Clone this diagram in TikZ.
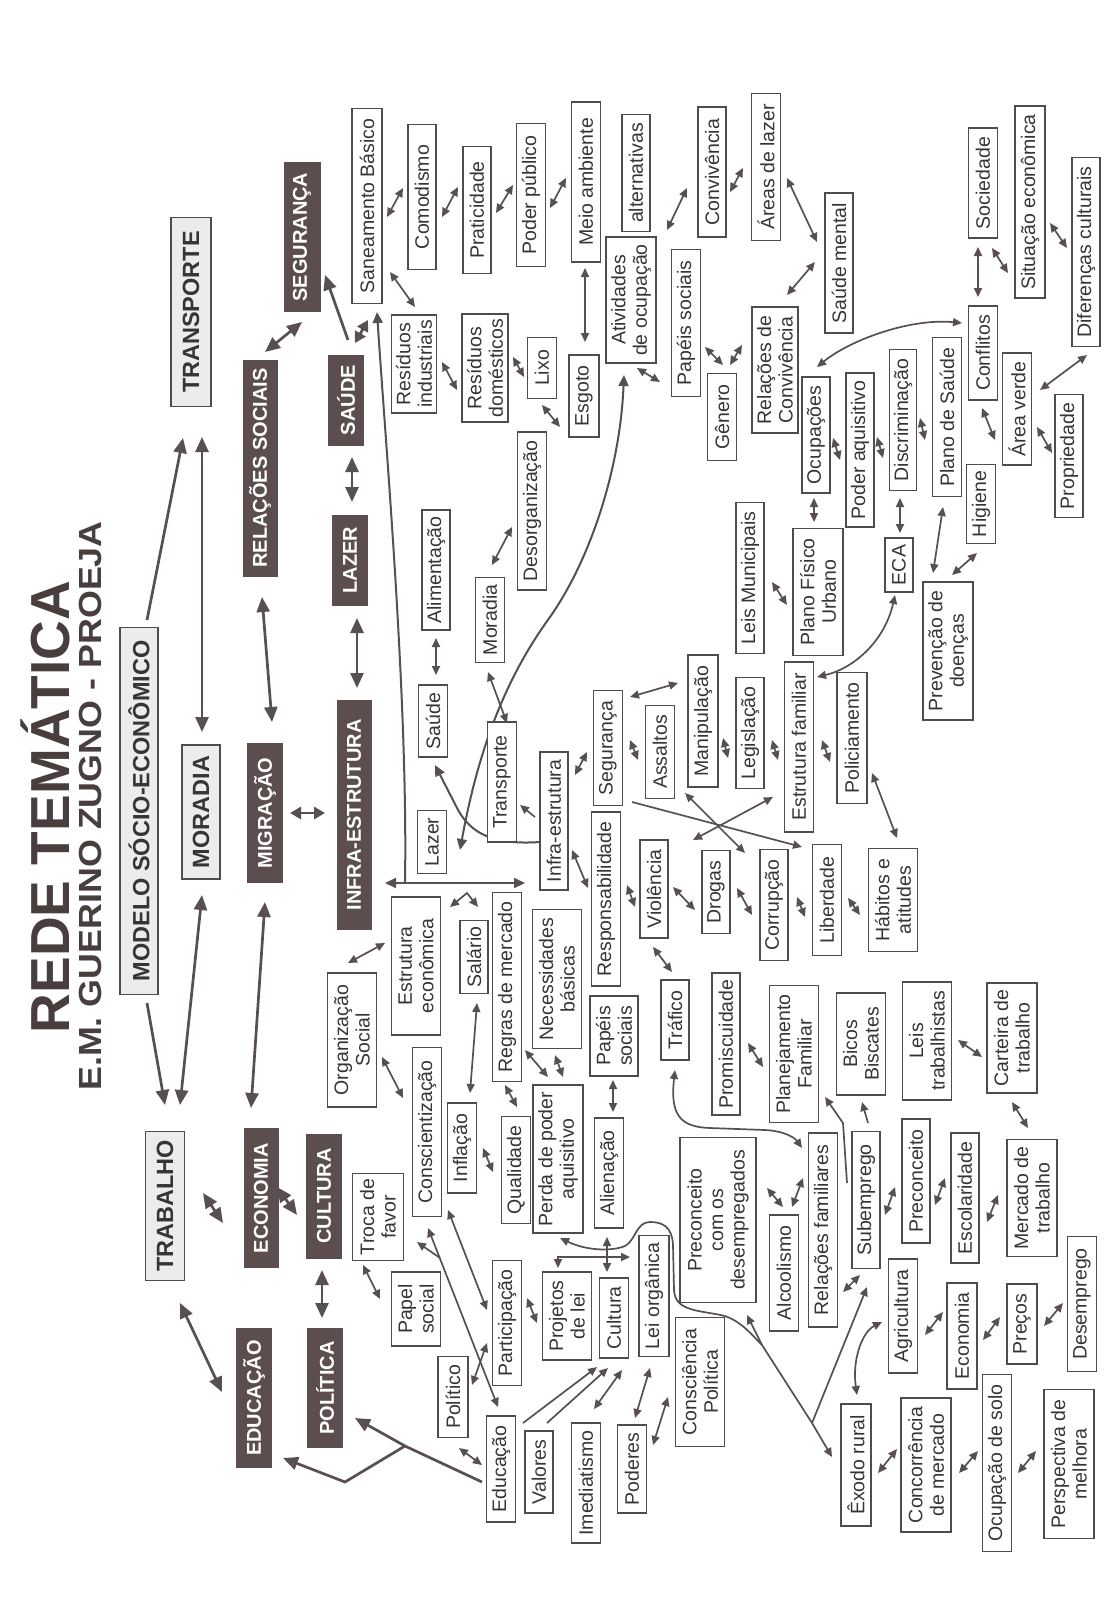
\documentclass[tikz,border=0pt]{standalone}
\usepackage{fontspec}
\setmainfont{Liberation Sans}
\usetikzlibrary{arrows.meta,calc,backgrounds}
\definecolor{txtc}{RGB}{55,52,52}
\definecolor{titc}{RGB}{72,62,62}
\definecolor{arrc}{RGB}{88,80,80}
\definecolor{darkc}{RGB}{92,78,78}
\definecolor{lightc}{RGB}{236,236,236}
\definecolor{linec}{RGB}{80,76,76}
\tikzset{
 bx/.style={rotate=90,draw=linec,line width=1.3,fill=white,text=txtc,inner sep=1,align=center,font=\fontsize{19.5}{21.5}\selectfont},
 dk/.style={rotate=90,fill=darkc,text=white,inner sep=1,align=center,font=\fontsize{20}{22}\selectfont\bfseries},
 lt/.style={rotate=90,draw=linec,line width=1.3,fill=lightc,text=txtc,inner sep=1,align=center,font=\fontsize{23.5}{26}\selectfont\bfseries},
 sm/.style={draw=arrc,line width=1.7,{Triangle[length=9,width=8]}-{Triangle[length=9,width=8]}},
 smo/.style={draw=arrc,line width=1.7,-{Triangle[length=9,width=8]}},
 smn/.style={draw=arrc,line width=1.7},
 md/.style={draw=arrc,line width=2,{Triangle[length=11,width=10]}-{Triangle[length=11,width=10]}},
 mdo/.style={draw=arrc,line width=2,-{Triangle[length=11,width=10]}},
 mdn/.style={draw=arrc,line width=2},
 bg/.style={draw=arrc,line width=2.7,{Triangle[length=15,width=13]}-{Triangle[length=15,width=13]}},
 bgs/.style={draw=arrc,line width=2.7,{Triangle[length=11,width=12]}-{Triangle[length=11,width=12]}},
 bgo/.style={draw=arrc,line width=2.7,-{Triangle[length=15,width=13]}},
 bgn/.style={draw=arrc,line width=2.7},
}
\newcommand\mkn[7]{\node[#1,minimum width=#5,minimum height=#6] (#2) at (#3,#4) {#7};}
\begin{document}
\begin{tikzpicture}[x=1pt,y=-1pt]
\useasboundingbox (0,0) rectangle (1112,1614);
% titles
\node[rotate=90,anchor=base,font=\fontsize{55}{62}\selectfont\bfseries,text=titc] (title) at (69,807) {REDE TEMÁTICA};
\node[rotate=90,anchor=base,font=\fontsize{32}{36}\selectfont\bfseries\addfontfeature{FakeStretch=1.12},text=titc] (subt) at (101,806) {E.M. GUERINO ZUGNO - PROEJA};
% main concepts
\mkn{lt}{trans}{191}{312}{189}{40}{TRANSPORTE}
\mkn{dk}{seg}{302}{237}{150}{37}{SEGURANÇA}
\mkn{dk}{saude}{346}{400}{91}{36}{SAÚDE}
\mkn{dk}{rel}{260}{468}{217}{35}{RELAÇÕES SOCIAIS}
\mkn{lt}{modelo}{139}{811}{367}{38}{MODELO SÓCIO-ECONÔMICO}
\mkn{lt}{mor}{201}{812}{134}{38}{MORADIA}
\mkn{dk}{mig}{265}{813}{140}{36}{MIGRAÇÃO}
\mkn{dk}{infra}{354}{815}{230}{35}{INFRA-ESTRUTURA}
\mkn{dk}{lazer}{350}{560}{91}{36}{LAZER}
\mkn{lt}{trab}{165}{1206}{149}{39}{TRABALHO}
\mkn{dk}{eco}{261}{1198}{140}{35}{ECONOMIA}
\mkn{dk}{cul}{324}{1196}{125}{36}{CULTURA}
\mkn{dk}{edu}{254}{1398}{140}{36}{EDUCAÇÃO}
\mkn{dk}{pol}{325}{1388}{120}{36}{POLÍTICA}
% sub concepts
\mkn{bx}{san}{367}{206}{195}{30}{Saneamento Básico}
\mkn{bx}{com}{422}{197}{145}{28}{Comodismo}
\mkn{bx}{prat}{477}{210}{127}{28}{Praticidade}
\mkn{bx}{podp}{531}{195}{143}{29}{Poder público}
\mkn{bx}{meio}{586}{182}{160}{29}{Meio ambiente}
\mkn{bx}{alt}{636}{173}{117}{28}{alternativas}
\mkn{bx}{conv}{712}{172}{130}{28}{Convivência}
\mkn{bx}{resi}{414}{364}{98}{45}{Resíduos\\industriais}
\mkn{bx}{resd}{485}{368}{108}{46}{Resíduos\\domésticos}
\mkn{bx}{lixo}{542}{368}{61}{29}{Lixo}
\mkn{bx}{esg}{584}{396}{82}{30}{Esgoto}
\mkn{bx}{ativ}{631}{300}{126}{50}{Atividades\\de ocupação}
\mkn{bx}{paps}{686}{323}{147}{29}{Papéis sociais}
\mkn{bx}{gen}{722}{417}{87}{29}{Gênero}
\mkn{bx}{relc}{775}{370}{126}{46}{Relações de\\Convivência}
\mkn{bx}{areas}{766}{167}{147}{29}{Áreas de lazer}
\mkn{bx}{saum}{839}{263}{140}{28}{Saúde mental}
\mkn{bx}{soc}{983}{183}{110}{29}{Sociedade}
\mkn{bx}{sit}{1030}{202}{192}{30}{Situação econômica}
\mkn{bx}{dif}{1086}{252}{189}{28}{Diferenças culturais}
\mkn{bx}{conf}{983}{353}{94}{29}{Conflitos}
\mkn{bx}{ocup}{816}{435}{116}{28}{Ocupações}
\mkn{bx}{poda}{860}{450}{154}{28}{Poder aquisitivo}
\mkn{bx}{disc}{903}{420}{141}{27}{Discriminação}
\mkn{bx}{plsa}{947}{417}{159}{29}{Plano de Saúde}
\mkn{bx}{arv}{1017}{409}{112}{29}{Área verde}
\mkn{bx}{prop}{1069}{456}{123}{28}{Propriedade}
\mkn{bx}{hig}{981}{504}{79}{29}{Higiene}
\mkn{bx}{leism}{750}{578}{151}{28}{Leis Municipais}
\mkn{bx}{pfu}{818}{592}{127}{50}{Plano Físico\\Urbano}
\mkn{bx}{eca}{899}{565}{54}{28}{ECA}
\mkn{bx}{prev}{948}{651}{138}{50}{Prevenção de\\doenças}
\mkn{bx}{legis}{750}{733}{111}{28}{Legislação}
\mkn{bx}{estf}{799}{747}{170}{29}{Estrutura familiar}
\mkn{bx}{pol2}{852}{738}{131}{30}{Policiamento}
\mkn{bx}{habt}{893}{900}{103}{49}{Hábitos e\\atitudes}
\mkn{bx}{alim}{436}{570}{120}{28}{Alimentação}
\mkn{bx}{sau2}{433}{721}{72}{29}{Saúde}
\mkn{bx}{mor2}{490}{620}{85}{29}{Moradia}
\mkn{bx}{deso}{532}{511}{158}{29}{Desorganização}
\mkn{bx}{transp}{502}{782}{120}{29}{Transporte}
\mkn{bx}{segu}{608}{748}{115}{29}{Segurança}
\mkn{bx}{ass}{660}{752}{93}{29}{Assaltos}
\mkn{bx}{manip}{703}{721}{132}{30}{Manipulação}
\mkn{bx}{infr2}{554}{821}{138}{28}{Infra-estrutura}
\mkn{bx}{lazer2}{432}{842}{63}{29}{Lazer}
\mkn{bx}{estec}{416}{966}{138}{49}{Estrutura\\econômica}
\mkn{bx}{sal}{474}{957}{73}{28}{Salário}
\mkn{bx}{regm}{507}{987}{189}{29}{Regras de mercado}
\mkn{bx}{necb}{557}{979}{139}{49}{Necessidades\\básicas}
\mkn{bx}{resp}{606}{899}{174}{29}{Responsabilidade}
\mkn{bx}{paps2}{614}{1036}{80}{48}{Papéis\\sociais}
\mkn{bx}{viol}{654}{889}{98}{28}{Violência}
\mkn{bx}{drog}{716}{892}{83}{28}{Drogas}
\mkn{bx}{traf}{675}{1020}{80}{28}{Tráfico}
\mkn{bx}{prom}{726}{1044}{142}{28}{Promiscuidade}
\mkn{bx}{corr}{774}{905}{111}{28}{Corrupção}
\mkn{bx}{lib}{827}{900}{111}{29}{Liberdade}
\mkn{bx}{plf}{794}{1054}{137}{49}{Planejamento\\Familiar}
\mkn{bx}{bicos}{861}{1044}{102}{49}{Bicos\\Biscates}
\mkn{bx}{leist}{927}{1041}{118}{49}{Leis\\trabalhistas}
\mkn{bx}{cart}{1012}{1038}{110}{50}{Carteira de\\trabalho}
\mkn{bx}{merc}{1032}{1198}{117}{50}{Mercado de\\trabalho}
\mkn{bx}{orgs}{352}{1040}{134}{49}{Organização\\Social}
\mkn{bx}{consc}{427}{1132}{169}{29}{Conscientização}
\mkn{bx}{infl}{462}{1148}{90}{29}{Inflação}
\mkn{bx}{qual}{516}{1170}{107}{29}{Qualidade}
\mkn{bx}{perda}{558}{1159}{148}{50}{Perda de poder\\aquisitivo}
\mkn{bx}{alien}{609}{1173}{110}{29}{Alienação}
\mkn{bx}{prec}{718}{1220}{165}{76}{Preconceito\\com os\\desempregados}
\mkn{bx}{alc}{784}{1273}{116}{29}{Alcoolismo}
\mkn{bx}{relf}{823}{1230}{194}{29}{Relações familiares}
\mkn{bx}{subem}{866}{1200}{137}{28}{Subemprego}
\mkn{bx}{prec2}{916}{1181}{124}{28}{Preconceito}
\mkn{bx}{esc}{965}{1198}{130}{28}{Escolaridade}
\mkn{bx}{agr}{903}{1316}{114}{29}{Agricultura}
\mkn{bx}{econ2}{962}{1336}{106}{30}{Economia}
\mkn{bx}{precos}{1022}{1324}{80}{30}{Preços}
\mkn{bx}{desem}{1082}{1304}{135}{29}{Desemprego}
\mkn{bx}{exodo}{856}{1465}{122}{30}{Êxodo rural}
\mkn{bx}{concm}{926}{1465}{134}{50}{Concorrência\\de mercado}
\mkn{bx}{ocsolo}{997}{1463}{177}{29}{Ocupação de solo}
\mkn{bx}{persp}{1069}{1464}{149}{50}{Perspectiva de\\melhora}
\mkn{bx}{troca}{378}{1217}{87}{51}{Troca de\\favor}
\mkn{bx}{papel}{416}{1309}{74}{49}{Papel\\social}
\mkn{bx}{part}{507}{1323}{125}{29}{Participação}
\mkn{bx}{polt}{453}{1397}{81}{30}{Político}
\mkn{bx}{educ2}{501}{1469}{106}{29}{Educação}
\mkn{bx}{val}{539}{1472}{82}{28}{Valores}
\mkn{bx}{imed}{586}{1483}{120}{29}{Imediatismo}
\mkn{bx}{pod}{632}{1469}{88}{29}{Poderes}
\mkn{bx}{conp}{700}{1382}{129}{49}{Consciência\\Política}
\mkn{bx}{proj}{567}{1316}{88}{49}{Projetos\\de lei}
\mkn{bx}{cult2}{614}{1318}{80}{29}{Cultura}
\mkn{bx}{leio}{654}{1296}{121}{30}{Lei orgânica}
% junctions
\coordinate (jb) at (405,883);
\coordinate (jp) at (405,1446);
\coordinate (jt) at (440,1258);
\coordinate (jx) at (812,1423);
\coordinate (jy) at (762,1345);
\begin{pgfonlayer}{background}
\fill[white] (0,0) rectangle (1112,1614);
% big arrows
\draw[bgo] ($(modelo)+(8,-191)$) -- ($(trans)+(-8,126)$);
\draw[bg] ($(mor)+(1,-80)$) -- ($(trans)+(11,125)$);
\draw[bg] ($(mig)+(7,-91)$) -- ($(rel)+(2,129)$);
\draw[bg] ($(rel)+(5,-116)$) -- ($(seg)+(0,85)$);
\draw[bgo] ($(saude)+(2,-60)$) -- ($(seg)+(23,38)$);
\draw[bgs] ($(saude)+(9,-57)$) -- ($(san)+(1,114)$);
\draw[bg] ($(lazer)+(7,58)$) -- ($(infra)+(3,-127)$);
\draw[bg] ($(lazer)+(2,-58)$) -- ($(saude)+(6,57)$);
\draw[bgs] ($(mig)+(25,0)$) -- ($(infra)+(-29,-2)$);
\draw[bgo] ($(modelo)+(8,192)$) -- ($(trab)+(0,-101)$);
\draw[bg] ($(mor)+(1,83)$) -- ($(trab)+(15,-101)$);
\draw[bg] ($(mig)+(0,89)$) -- ($(eco)+(-10,-90)$);
\draw[bg] ($(trab)+(38,-13)$) -- ($(eco)+(-38,25)$);
\draw[bg] ($(eco)+(16,-11)$) -- ($(cul)+(-27,19)$);
\draw[bg] ($(trab)+(15,97)$) -- ($(edu)+(-32,-6)$);
\draw[bg] ($(cul)+(-2,74)$) -- ($(pol)+(-3,-70)$);
\draw[bgn] ($(educ2)+(-19,13)$) -- (jp);
\draw[bgo] (jp) -- ($(pol)+(30,30)$);
\draw[bgo] (jp) -- (345,1482) -- ($(edu)+(29,60)$);
% medium
\draw[md] ($(infra)+(31,68)$) -- ($(infr2)+(-29,62)$);
\draw[mdo] (jb) .. controls (408,700) and (386,450) .. ($(san)+(10,106)$);
\draw[md] ($(ativ)+(-7,75)$) .. controls (620,470) and (590,560) .. (550,617) .. controls (510,672) and (480,740) .. ($(lazer2)+(28,8)$);
\draw[mdo] ($(infr2)+(-14,21)$) .. controls (495,845) and (470,835) .. (456,806) -- ($(sau2)+(2,44)$);
% small arrows
\draw[sm] ($(san)+(20,11)$) -- ($(com)+(-19,-9)$);
\draw[sm] ($(san)+(23,66)$) -- ($(resi)+(1,-57)$);
\draw[sm] ($(com)+(20,20)$) -- ($(prat)+(-19,-23)$);
\draw[sm] ($(prat)+(19,3)$) -- ($(podp)+(-18,-10)$);
\draw[sm] ($(podp)+(19,13)$) -- ($(meio)+(-20,-4)$);
\draw[sm] ($(meio)+(-1,86)$) -- ($(esg)+(1,-54)$);
\draw[sm] ($(resi)+(28,-2)$) -- ($(resd)+(-28,22)$);
\draw[sm] ($(resd)+(28,-11)$) -- ($(lixo)+(-18,9)$);
\draw[sm] ($(lixo)+(0,37)$) -- ($(esg)+(-24,31)$);
\draw[sm] ($(alt)+(31,57)$) -- ($(conv)+(-25,16)$);
\draw[sm] ($(conv)+(18,20)$) -- ($(areas)+(-23,1)$);
\draw[sm] ($(areas)+(21,11)$) -- ($(saum)+(-22,-21)$);
\draw[sm] ($(relc)+(12,-75)$) -- ($(saum)+(-24,-1)$);
\draw[sm] ($(ativ)+(6,68)$) -- ($(paps)+(-26,59)$);
\draw[sm] ($(paps)+(19,24)$) -- ($(gen)+(1,-52)$);
\draw[sm] ($(gen)+(8,-52)$) -- ($(relc)+(-33,-25)$);
\draw[sm] ($(ocup)+(1,-68)$) .. controls (850,340) and (910,318) .. ($(conf)+(-21,-30)$);
\draw[sm] ($(conf)+(-5,-56)$) -- ($(soc)+(-5,64)$);
\draw[sm] ($(soc)+(9,65)$) -- ($(sit)+(-22,71)$);
\draw[sm] ($(sit)+(20,21)$) -- ($(dif)+(-19,-4)$);
\draw[sm] ($(arv)+(23,-19)$) -- ($(dif)+(1,103)$);
\draw[sm] ($(conf)+(-1,55)$) -- ($(arv)+(-22,31)$);
\draw[sm] ($(arv)+(20,18)$) -- ($(prop)+(-17,-3)$);
\draw[sm] ($(ocup)+(17,3)$) -- ($(poda)+(-20,10)$);
\draw[sm] ($(poda)+(17,-13)$) -- ($(disc)+(-20,38)$);
\draw[sm] ($(disc)+(17,-2)$) -- ($(plsa)+(-22,23)$);
\draw[sm] ($(pfu)+(-4,-70)$) -- ($(ocup)+(-2,63)$);
\draw[sm] ($(eca)+(1,-32)$) -- ($(disc)+(-3,78)$);
\draw[sm] ($(prev)+(-15,-78)$) -- ($(plsa)+(-4,90)$);
\draw[sm] ($(prev)+(4,-76)$) -- ($(hig)+(-4,49)$);
\draw[sm] ($(leism)+(22,4)$) -- ($(pfu)+(-31,13)$);
\draw[sm] ($(estf)+(18,-70)$) .. controls (855,668) and (885,640) .. ($(eca)+(-4,30)$);
\draw[sm] ($(legis)+(22,7)$) -- ($(estf)+(-21,13)$);
\draw[sm] ($(estf)+(23,-7)$) -- ($(pol2)+(-22,24)$);
\draw[sm] ($(pol2)+(20,35)$) -- ($(habt)+(4,-62)$);
\draw[sm] ($(alim)+(0,68)$) -- ($(sau2)+(3,-46)$);
\draw[sm] ($(mor2)+(2,-55)$) -- ($(deso)+(-20,16)$);
\draw[sm] ($(mor2)+(-2,52)$) -- ($(transp)+(5,-59)$);
\draw[sm] ($(segu)+(22,-51)$) -- ($(manip)+(-25,-38)$);
\draw[sm] ($(segu)+(22,-8)$) -- ($(ass)+(-22,8)$);
\draw[sm] ($(manip)+(20,17)$) -- ($(legis)+(-22,25)$);
\draw[sm] ($(infr2)+(21,-46)$) -- ($(segu)+(-21,4)$);
\draw[smo] ($(infr2)+(-19,-4)$) -- ($(transp)+(18,23)$);
\draw[smo] ($(segu)+(24,54)$) -- ($(lib)+(-25,-53)$);
\draw[sm] ($(drog)+(-23,-52)$) -- ($(estf)+(-26,50)$);
\draw[sm] ($(ass)+(25,41)$) -- ($(corr)+(-29,-52)$);
\draw[sm] ($(estec)+(34,-59)$) -- (467,893) -- ($(sal)+(4,-50)$);
\draw[sm] ($(orgs)+(-4,-77)$) -- ($(estec)+(-31,-23)$);
\draw[sm] ($(orgs)+(30,17)$) -- ($(consc)+(-24,-34)$);
\draw[sm] ($(sal)+(3,46)$) -- ($(infl)+(8,-55)$);
\draw[sm] ($(infl)+(21,0)$) -- ($(qual)+(-23,2)$);
\draw[sm] ($(regm)+(-2,98)$) -- ($(qual)+(1,-63)$);
\draw[sm] ($(regm)+(18,63)$) -- ($(perda)+(-10,-82)$);
\draw[sm] ($(necb)+(-2,76)$) -- ($(perda)+(5,-82)$);
\draw[sm] ($(paps2)+(-1,44)$) -- ($(alien)+(4,-61)$);
\draw[sm] ($(infr2)+(18,29)$) -- ($(resp)+(-18,-11)$);
\draw[sm] ($(resp)+(21,-14)$) -- ($(viol)+(-19,18)$);
\draw[sm] ($(viol)+(19,-2)$) -- ($(drog)+(-21,18)$);
\draw[sm] ($(viol)+(-1,58)$) -- ($(traf)+(-3,-48)$);
\draw[sm] ($(drog)+(21,-4)$) -- ($(corr)+(-22,10)$);
\draw[sm] ($(corr)+(23,-8)$) -- ($(lib)+(-22,17)$);
\draw[sm] ($(lib)+(21,-2)$) -- ($(habt)+(-33,15)$);
\draw[sm] ($(prom)+(22,-1)$) -- ($(plf)+(-31,13)$);
\draw[sm] ($(leist)+(31,-1)$) -- ($(cart)+(-30,19)$);
\draw[sm] ($(cart)+(0,64)$) -- ($(merc)+(-4,-70)$);
\draw[smo] ($(subem)+(2,-77)$) -- ($(bicos)+(1,58)$);
\draw[smo] ($(subem)+(-19,-17)$) -- (843,1123) -- ($(plf)+(31,43)$);
\draw[sm] ($(traf)+(0,50)$) .. controls (670,1115) and (680,1127) .. (710,1128) -- (765,1130) .. controls (785,1131) and (795,1138) .. ($(relf)+(-21,-82)$);
\draw[sm] ($(prec)+(49,-32)$) -- ($(alc)+(-1,-66)$);
\draw[sm] ($(alc)+(8,-66)$) -- ($(relf)+(-20,-52)$);
\draw[sm] ($(subem)+(19,15)$) -- ($(prec2)+(-21,6)$);
\draw[sm] ($(prec2)+(19,24)$) -- ($(esc)+(-20,-20)$);
\draw[sm] ($(esc)+(22,24)$) -- ($(merc)+(-34,-3)$);
\draw[sm] ($(relf)+(20,62)$) -- ($(subem)+(-6,75)$);
\draw[sm] ($(exodo)+(1,-70)$) .. controls (852,1360) and (862,1332) .. ($(agr)+(-21,6)$);
\draw[sm] ($(agr)+(22,19)$) -- ($(econ2)+(-19,-24)$);
\draw[sm] ($(econ2)+(21,4)$) -- ($(precos)+(-22,-7)$);
\draw[sm] ($(precos)+(22,2)$) -- ($(desem)+(-19,-1)$);
\draw[sm] ($(exodo)+(22,8)$) -- ($(concm)+(-29,-16)$);
\draw[sm] ($(concm)+(33,8)$) -- ($(ocsolo)+(-19,-12)$);
\draw[sm] ($(ocsolo)+(21,10)$) -- ($(persp)+(-33,-13)$);
% exodo rural branches
\draw[smo] (jx) -- ($(exodo)+(-24,-8)$);
\draw[smo] (jx) -- ($(subem)+(1,87)$);
\draw[smn] (jx) -- (jy);
\draw[smo] (jy) -- ($(prec)+(29,95)$);
\draw[smo] (jy) .. controls (752,1335) and (742,1322) .. (725,1316) .. controls (700,1310) and (675,1312) .. (674,1290) -- (673,1245) .. controls (672,1226) and (662,1222) .. (650,1222) .. controls (636,1222) and (636,1240) .. (625,1246) .. controls (610,1252) and (585,1250) .. ($(perda)+(2,79)$);
% lower left
\draw[sm] ($(proj)+(-9,-48)$) -- (558,1257) -- ($(leio)+(-24,-39)$);
\draw[sm] ($(cult2)+(-7,-46)$) -- ($(alien)+(-2,64)$);
\draw[sm] ($(troca)+(-15,48)$) -- ($(papel)+(-36,-10)$);
\draw[sm] ($(consc)+(1,96)$) -- ($(educ2)+(-3,-62)$);
\draw[smo] (jt) -- ($(troca)+(39,25)$);
\draw[sm] ($(infl)+(-14,62)$) -- ($(part)+(-20,-13)$);
\draw[sm] ($(polt)+(19,-12)$) -- ($(part)+(-20,20)$);
\draw[sm] ($(part)+(20,-25)$) -- ($(proj)+(-30,7)$);
\draw[sm] ($(polt)+(6,51)$) -- ($(educ2)+(-19,-4)$);
\draw[smo] ($(educ2)+(22,-46)$) -- ($(cult2)+(-17,49)$);
\draw[smo] ($(val)+(8,-49)$) -- ($(cult2)+(-6,50)$);
\draw[sm] ($(imed)+(8,-74)$) -- ($(cult2)+(8,52)$);
\draw[sm] ($(pod)+(3,-51)$) -- ($(leio)+(-4,72)$);
\draw[sm] ($(pod)+(21,-24)$) -- ($(conp)+(-32,15)$);
\end{pgfonlayer}
\end{tikzpicture}
\end{document}
